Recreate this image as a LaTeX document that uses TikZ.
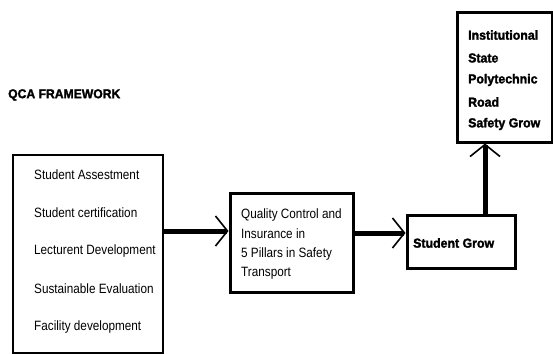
\documentclass[tikz,border=0pt]{standalone}
\usepackage{fontspec}
\setmainfont{Liberation Sans}
\newfontfamily\heavyfont{Liberation Sans Bold}[FakeBold=2]
\usetikzlibrary{arrows.meta,calc}
\tikzset{
  box/.style={draw, line width=#1, rectangle, inner sep=0pt},
  box/.default=2.5pt,
  plain/.style={anchor=west, inner sep=0pt, font=\fontsize{13.5}{15}\selectfont, xscale=0.87},
  heavy/.style={anchor=west, inner sep=0pt, font=\fontsize{13}{15}\heavyfont, xscale=0.95},
  flow/.style={line width=5pt, -{Straight Barb[length=12pt, width=30pt, line width=1.6pt]}}
}
\begin{document}
\begin{tikzpicture}[x=1pt,y=1pt]
\useasboundingbox (0,0) rectangle (553,354);
% boxes
\node[box=2pt, minimum width=150pt, minimum height=198pt] (lbox) at (88,100) {};
\node[box=3pt, minimum width=123pt, minimum height=99pt] (qc) at (291.5,111.5) {};
\node[box=3pt, minimum width=108pt, minimum height=53pt] (sg) at (461,112.5) {};
\node[box=3pt, minimum width=95pt, minimum height=129pt] (inst) at (504.5,276.5) {};
% title
\node[heavy, font=\fontsize{12.8}{14}\heavyfont] (title) at (8,259) {QCA FRAMEWORK};
% left box text
\node[plain] (t1) at (34,179) {Student Assestment};
\node[plain] (t2) at (34,141) {Student certification};
\node[plain] (t3) at (34,103) {Lecturent Development};
\node[plain] (t4) at (34,65) {Sustainable Evaluation};
\node[plain] (t5) at (34,27) {Facility development};
% qc text
\node[plain] (q1) at (241,139) {Quality Control and};
\node[plain] (q2) at (241,120) {Insurance in};
\node[plain] (q3) at (241,100) {5 Pillars in Safety};
\node[plain] (q4) at (241,81) {Transport};
% student grow
\node[heavy] (sgt) at (413,111) {Student Grow};
% institutional
\node[heavy] (i1) at (468,319) {Institutional};
\node[heavy] (i2) at (468,296) {State};
\node[heavy] (i3) at (468,274) {Polytechnic};
\node[heavy] (i4) at (468,252) {Road};
\node[heavy] (i5) at (468,230) {Safety Grow};
% arrows
\coordinate (a1e) at ([yshift=11.5pt]qc.west);
\draw[flow] (lbox.east |- a1e) -- (a1e);
\coordinate (a2e) at ([yshift=8.5pt]sg.west);
\draw[flow] (qc.east |- a2e) -- (a2e);
\coordinate (a3e) at ([xshift=-19.5pt]inst.south);
\draw[flow] (sg.north -| a3e) -- (a3e);
\end{tikzpicture}
\end{document}
